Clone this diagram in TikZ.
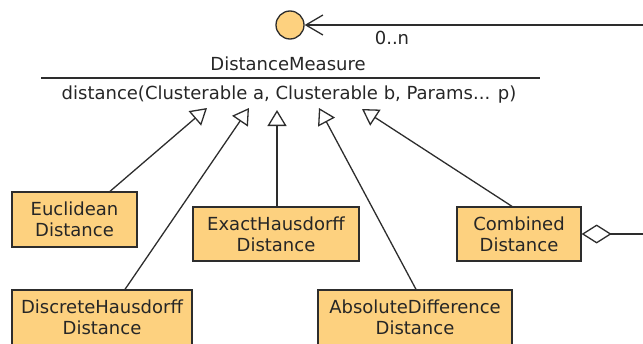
\documentclass[tikz,border=0pt]{standalone}
\usepackage{fontspec}
\setmainfont{DejaVu Sans}
\usepackage{xcolor}
\usepackage{tikz}
\definecolor{umlorange}{RGB}{253, 209, 127}
\definecolor{umlline}{RGB}{45, 45, 45}
\newcommand{\umlfont}{\fontsize{18}{21}\selectfont}
\usetikzlibrary{arrows.meta,positioning,calc}

\begin{document}
\begin{tikzpicture}[
    x=1pt, y=-1pt,
    umlclass/.style={rectangle, draw=umlline, fill=umlorange, line width=1.3pt, minimum height=55pt, inner sep=0pt, align=center, font=\umlfont, text=black!85},
    lollipop/.style={circle, draw=umlline, fill=umlorange, line width=1.3pt, minimum size=28pt, inner sep=0pt},
    umltext/.style={anchor=base, inner sep=0pt, font=\umlfont, text=black!85},
    realizes/.style={-{Triangle[open, length=16pt, width=19pt]}, line width=1.3pt, umlline},
    uses/.style={-{Straight Barb[length=17pt, width=20pt]}, line width=1.3pt, umlline},
    aggregates/.style={{Diamond[open, length=30pt, width=19pt]}-, line width=1.3pt, umlline}
]
    \clip (0,0) rectangle (643,343);

    % Interface
    \node[lollipop] (lolli) at (290,25) {};
    \node[umltext] (iname) at (288,70) {DistanceMeasure};
    \draw[line width=1.3pt, umlline] (41,78) -- (540,78);
    \node[umltext] (iop) at (289,99) {distance(Clusterable a, Clusterable b, Params... p)};

    % Incoming use
    \coordinate (usein) at (643,25);
    \draw[uses] (usein) -- (lolli);
    \node[umltext] (mult) at (392,44) {0..n};

    % Classes
    \node[umlclass, minimum width=125pt] (eucl) at (74.5,219.5) {Euclidean\\Distance};
    \node[umlclass, minimum width=166pt, minimum height=54pt] (exact) at (276,234) {ExactHausdorff\\Distance};
    \node[umlclass, minimum width=124pt, minimum height=54pt] (comb) at (519,234) {Combined\\Distance};
    \node[umlclass, minimum width=180pt] (disc) at (102,317.5) {DiscreteHausdorff\\Distance};
    \node[umlclass, minimum width=194pt] (absd) at (415,317.5) {AbsoluteDifference\\Distance};

    % Realizations
    \coordinate (g1) at (207,108);
    \coordinate (g2) at (249,108);
    \coordinate (g3) at (277,110);
    \coordinate (g4) at (319,108);
    \coordinate (g5) at (362,109);
    \draw[realizes] ([xshift=35.5pt]eucl.north) -- (g1);
    \draw[realizes] ([xshift=23pt]disc.north) -- (g2);
    \draw[realizes] ([xshift=1pt]exact.north) -- (g3);
    \draw[realizes] ([xshift=1pt]absd.north) -- (g4);
    \draw[realizes] ([xshift=-7pt]comb.north) -- (g5);

    % Aggregation
    \coordinate (aggout) at (643,234);
    \draw[aggregates] (comb) -- (aggout);
\end{tikzpicture}
\end{document}
